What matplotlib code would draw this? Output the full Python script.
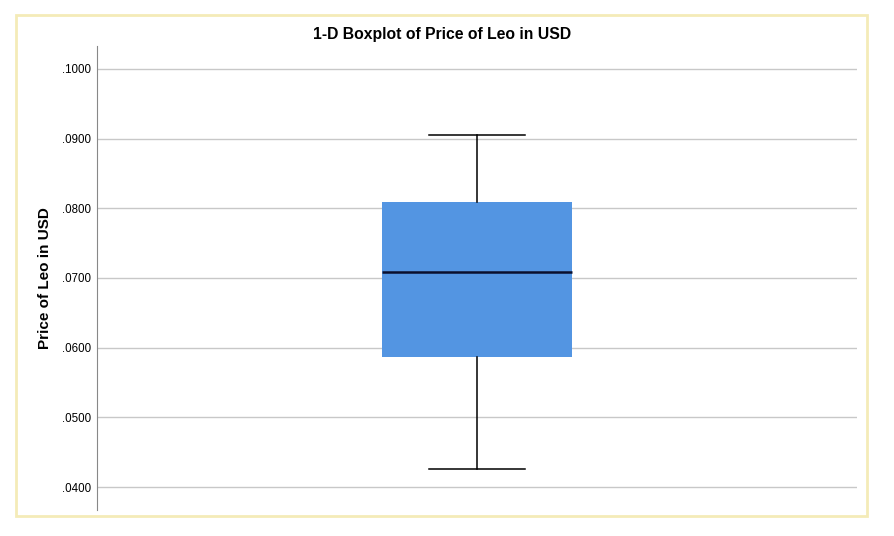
import matplotlib.pyplot as plt
from matplotlib.patches import Rectangle

plt.rcParams['font.family'] = ['Liberation Sans', 'DejaVu Sans']

# summary values
label = "Price of Leo in USD"
whisker_low = 0.0426
q1 = 0.0586
median = 0.0709
q3 = 0.0809
whisker_high = 0.0905
y_ticks = [0.04, 0.05, 0.06, 0.07, 0.08, 0.09, 0.10]
y_tick_labels = [".0400", ".0500", ".0600", ".0700", ".0800", ".0900", ".1000"]

W, H = 894, 536
fig = plt.figure(figsize=(W / 100, H / 100), dpi=100)

# yellow outer frame
fig.patches.append(Rectangle((16 / W, 1 - 516 / H), (867 - 16) / W, (516 - 15) / H,
                             transform=fig.transFigure, fill=False,
                             edgecolor='#F4EBB8', linewidth=2))

ax = fig.add_axes([97 / W, 1 - 510 / H, (857 - 97) / W, (510 - 46) / H])

stats = [{
    'whislo': whisker_low, 'q1': q1, 'med': median, 'q3': q3,
    'whishi': whisker_high, 'fliers': [], 'label': label,
}]
ax.bxp(stats, positions=[1], widths=0.25, patch_artist=True, capwidths=0.125,
       boxprops=dict(facecolor='#5395E2', edgecolor='#5395E2', linewidth=0),
       medianprops=dict(color='#0A0F2E', linewidth=1.8),
       whiskerprops=dict(color='black', linewidth=1.1),
       capprops=dict(color='black', linewidth=1.1), zorder=3)

ax.set_xlim(0.5, 1.5)
ax.set_ylim(0.0367, 0.1033)
ax.set_yticks(y_ticks)
ax.set_yticklabels(y_tick_labels, fontsize=8.3)
ax.set_xticks([])
ax.yaxis.grid(True, color='#C8C8C8', linewidth=1)
ax.set_axisbelow(True)
ax.tick_params(axis='y', length=0, pad=4.5)

for side in ['top', 'right', 'bottom']:
    ax.spines[side].set_visible(False)
ax.spines['left'].set_color('#888888')

fig.text(45 / W, 1 - 278 / H, label, rotation=90,
         ha='center', va='center', fontsize=11, fontweight='bold')
fig.text(442 / W, 1 - 34 / H, "1-D Boxplot of Price of Leo in USD",
         ha='center', va='center', fontsize=11.3, fontweight='bold')

fig.savefig('out.png', dpi=100)
